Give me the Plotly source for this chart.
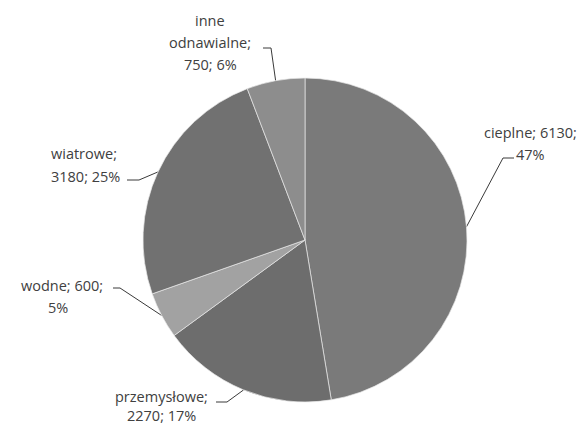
import math
import plotly.graph_objects as go

# ---- data ----
labels = ["cieplne", "przemysłowe", "wodne", "wiatrowe", "inne odnawialne"]
values = [6130, 2270, 600, 3180, 750]
percents = [47, 17, 5, 25, 6]
colors = ["#7a7a7a", "#6d6d6d", "#a2a2a2", "#717171", "#8d8d8d"]
# how many words go on each line of the wrapped label
wraps = [[2, 1], [1, 2], [2, 1], [1, 2], [1, 1, 2]]

W, H = 585, 426
CX, CY, R = 305, 240, 162

# label line centres (pixel) and leader line start points (pixel)
label_pos = [
    [(530, 132), (530, 154)],
    [(161, 396), (161, 415)],
    [(62, 285), (58, 307)],
    [(84, 153), (85, 176)],
    [(210, 20), (210, 42), (210, 64)],
]
leader_start = [
    [(514, 158), (503, 158)],
    [(216, 402), (227, 402)],
    [(113, 288), (120, 288)],
    [(127, 180), (139, 180)],
    [(263, 48), (271, 48)],
]

fig = go.Figure()
fig.add_trace(go.Pie(
    labels=labels, values=values, sort=False, direction="clockwise",
    rotation=0, textinfo="none", hoverinfo="label+value+percent",
    marker=dict(colors=colors, line=dict(color="#e8e8e8", width=0.7)),
    domain=dict(x=[(CX - R) / W, (CX + R) / W],
                y=[(H - CY - R) / H, (H - CY + R) / H]),
    showlegend=False,
))

total = sum(values)
cum = 0
for i, (lab, val, pct) in enumerate(zip(labels, values, percents)):
    mid = (cum + val / 2) / total * 2 * math.pi
    cum += val
    px = CX + R * math.sin(mid)
    py = CY - R * math.cos(mid)
    pts = leader_start[i] + [(px, py)]
    fig.add_trace(go.Scatter(
        x=[p[0] for p in pts], y=[p[1] for p in pts], mode="lines",
        line=dict(color="#3a3a3a", width=1), hoverinfo="skip",
        showlegend=False, xaxis="x", yaxis="y"))
    words = f"{lab}; {val}; {pct}%".split(" ")
    k = 0
    for n, (lx, ly) in zip(wraps[i], label_pos[i]):
        line = " ".join(words[k:k + n])
        k += n
        fig.add_annotation(x=lx, y=ly, xref="x", yref="y", text=line,
                           showarrow=False, xanchor="center", yanchor="middle",
                           font=dict(family="Open Sans", size=14.5, color="#404040"))

fig.update_layout(
    width=W, height=H, margin=dict(l=0, r=0, t=0, b=0),
    paper_bgcolor="white", plot_bgcolor="rgba(0,0,0,0)",
    xaxis=dict(range=[0, W], visible=False, fixedrange=True),
    yaxis=dict(range=[H, 0], visible=False, fixedrange=True),
)
fig.write_html("out.html")
